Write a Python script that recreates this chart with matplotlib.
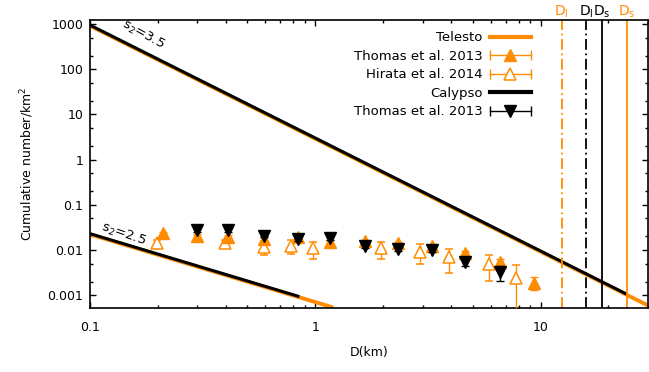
import matplotlib.pyplot as plt
from matplotlib.legend_handler import HandlerLine2D, HandlerTuple
from matplotlib.lines import Line2D
from matplotlib.ticker import LogLocator, FuncFormatter, NullFormatter
import numpy as np

ORANGE = '#ff8c00'

# Telesto, Thomas et al. 2013
tel_d = [0.21, 0.297, 0.41, 0.59, 0.839, 1.168, 1.658, 2.34, 3.31, 4.64, 6.62, 9.31]
tel_n = [0.0232, 0.0202, 0.0195, 0.0174, 0.0195, 0.0150, 0.0157, 0.0139, 0.0123, 0.0084, 0.0055, 0.0019]
tel_err = [0.002, 0.0018, 0.0018, 0.0016, 0.0016, 0.0013, 0.0013, 0.0012, 0.0011, 0.0009, 0.0008, 0.0006]

# Telesto, Hirata et al. 2014
hir_d = [0.198, 0.397, 0.59, 0.784, 0.978, 1.966, 2.93, 3.92, 5.9, 7.8]
hir_n = [0.0139, 0.0139, 0.0117, 0.0123, 0.0108, 0.0108, 0.0091, 0.0068, 0.0050, 0.0024]
hir_err = [0.003, 0.003, 0.004, 0.0043, 0.0045, 0.0045, 0.0043, 0.0037, 0.0029, 0.0022]

# Calypso, Thomas et al. 2013
cal_d = [0.297, 0.41, 0.59, 0.839, 1.168, 1.658, 2.34, 3.31, 4.64, 6.62]
cal_n = [0.0274, 0.0274, 0.0205, 0.0174, 0.0180, 0.0123, 0.0104, 0.0100, 0.0055, 0.0033]
cal_err = [0.002, 0.002, 0.0015, 0.0013, 0.0013, 0.001, 0.0009, 0.0009, 0.0012, 0.0012]

# power-law size distributions N = c * D^(1 - s2)
s2_values = [3.5, 2.5]
cal_coef = [3.0, 7.25e-4]
tel_coef = [2.9, 7.0e-4]
cal_dmax = [24.1, 0.85]
tel_dmax = [30.0, 1.2]
d_min = 0.1

# diameter limits (D_l dash-dot, D_s solid)
tel_dl, tel_ds = 12.4, 24.2
cal_dl, cal_ds = 15.9, 18.7

plt.rcParams['font.family'] = 'DejaVu Sans'
plt.rcParams['font.size'] = 9
plt.rcParams['mathtext.default'] = 'regular'

fig = plt.figure(figsize=(6.49, 3.72), dpi=100)
ax = fig.add_axes([0.1387, 0.1712, 0.8598, 0.775])

for s2, ct, cc, dt, dc in zip(s2_values, tel_coef, cal_coef, tel_dmax, cal_dmax):
    d = np.logspace(np.log10(d_min), np.log10(dt), 50)
    ax.plot(d, ct * d ** (1 - s2), color=ORANGE, lw=2.8, solid_capstyle='butt')
    d = np.logspace(np.log10(d_min), np.log10(dc), 50)
    ax.plot(d, cc * d ** (1 - s2), color='black', lw=2.2, solid_capstyle='butt')

ax.axvline(tel_dl, color=ORANGE, lw=1.3, ls=(0, (6, 2, 1, 2)))
ax.axvline(cal_dl, color='black', lw=1.3, ls=(0, (6, 2, 1, 2)))
ax.axvline(cal_ds, color='black', lw=1.3)
ax.axvline(tel_ds, color=ORANGE, lw=1.3)

ax.errorbar(hir_d, hir_n, yerr=hir_err, fmt='^', ms=9, mfc='white', mec=ORANGE,
            mew=1.1, color=ORANGE, ecolor=ORANGE, elinewidth=1, capsize=3, zorder=3)
ax.errorbar(tel_d, tel_n, yerr=tel_err, fmt='^', ms=9, color=ORANGE,
            ecolor=ORANGE, elinewidth=1, capsize=3, zorder=4)
ax.errorbar(cal_d, cal_n, yerr=cal_err, fmt='v', ms=9, color='black',
            ecolor='black', elinewidth=1, capsize=3, zorder=5)

ax.set_xscale('log')
ax.set_yscale('log')
ax.set_xlim(0.1, 30)
ax.set_ylim(5.1e-4, 1230)

fmt = FuncFormatter(lambda v, p: '%g' % v)
ax.xaxis.set_major_formatter(fmt)
ax.yaxis.set_major_formatter(fmt)
ax.yaxis.set_major_locator(LogLocator(base=10, numticks=20))
ax.yaxis.set_minor_locator(LogLocator(base=10, subs=(2.0, 5.0), numticks=20))
ax.yaxis.set_minor_formatter(NullFormatter())
ax.xaxis.set_minor_formatter(NullFormatter())
ax.tick_params(which='both', direction='in', top=True, right=True, width=1)
ax.tick_params(which='major', length=4.5, pad=9)
ax.tick_params(which='minor', length=2.5)
ax.tick_params(axis='y', pad=5)
for sp in ax.spines.values():
    sp.set_linewidth(1.2)

ax.set_xlabel('D(km)', labelpad=9)
ax.set_ylabel('Cumulative number/km$^2$', labelpad=8)

ax.text(0.172, 571, 's$_2$=3.5', rotation=-29, ha='center', va='center', fontsize=9.5)
ax.text(0.14, 0.0223, 's$_2$=2.5', rotation=-19, ha='center', va='center', fontsize=9.5)

trans = ax.get_xaxis_transform()
ax.text(tel_dl, 1.03, 'D$_l$', color=ORANGE, ha='center', va='center', transform=trans, fontsize=10)
ax.text(cal_dl, 1.03, 'D$_l$', color='black', ha='center', va='center', transform=trans, fontsize=10)
ax.text(cal_ds, 1.03, 'D$_s$', color='black', ha='center', va='center', transform=trans, fontsize=10)
ax.text(tel_ds, 1.03, 'D$_s$', color=ORANGE, ha='center', va='center', transform=trans, fontsize=10)

# legend samples: horizontal bar with end ticks plus the marker
h_tel = Line2D([], [], color=ORANGE, lw=3)
bar_o = Line2D([], [], color=ORANGE, lw=1, marker='|', ms=7)
tri_f = Line2D([], [], color=ORANGE, marker='^', ms=9, ls='none')
tri_h = Line2D([], [], mec=ORANGE, mfc='white', mew=1.1, marker='^', ms=9, ls='none')
h_cal = Line2D([], [], color='black', lw=3)
bar_k = Line2D([], [], color='black', lw=1, marker='|', ms=7)
tri_k = Line2D([], [], color='black', marker='v', ms=9, ls='none')

one = HandlerLine2D(numpoints=1)
two = HandlerLine2D(numpoints=2, marker_pad=0)
ax.legend([h_tel, (bar_o, tri_f), (bar_o, tri_h), h_cal, (bar_k, tri_k)],
          ['Telesto', 'Thomas et al. 2013', 'Hirata et al. 2014', 'Calypso', 'Thomas et al. 2013'],
          handler_map={tuple: HandlerTuple(ndivide=1), tri_f: one, tri_h: one, tri_k: one,
                       bar_o: two, bar_k: two},
          markerfirst=False, frameon=False, loc='upper right',
          bbox_to_anchor=(0.826, 0.93), bbox_transform=fig.transFigure,
          handlelength=3.1, labelspacing=0.42, handletextpad=0.55, borderaxespad=0,
          fontsize=9.5)
for t in ax.get_legend().get_texts():
    t.set_ha('right')

fig.savefig('out.png', dpi=100)
